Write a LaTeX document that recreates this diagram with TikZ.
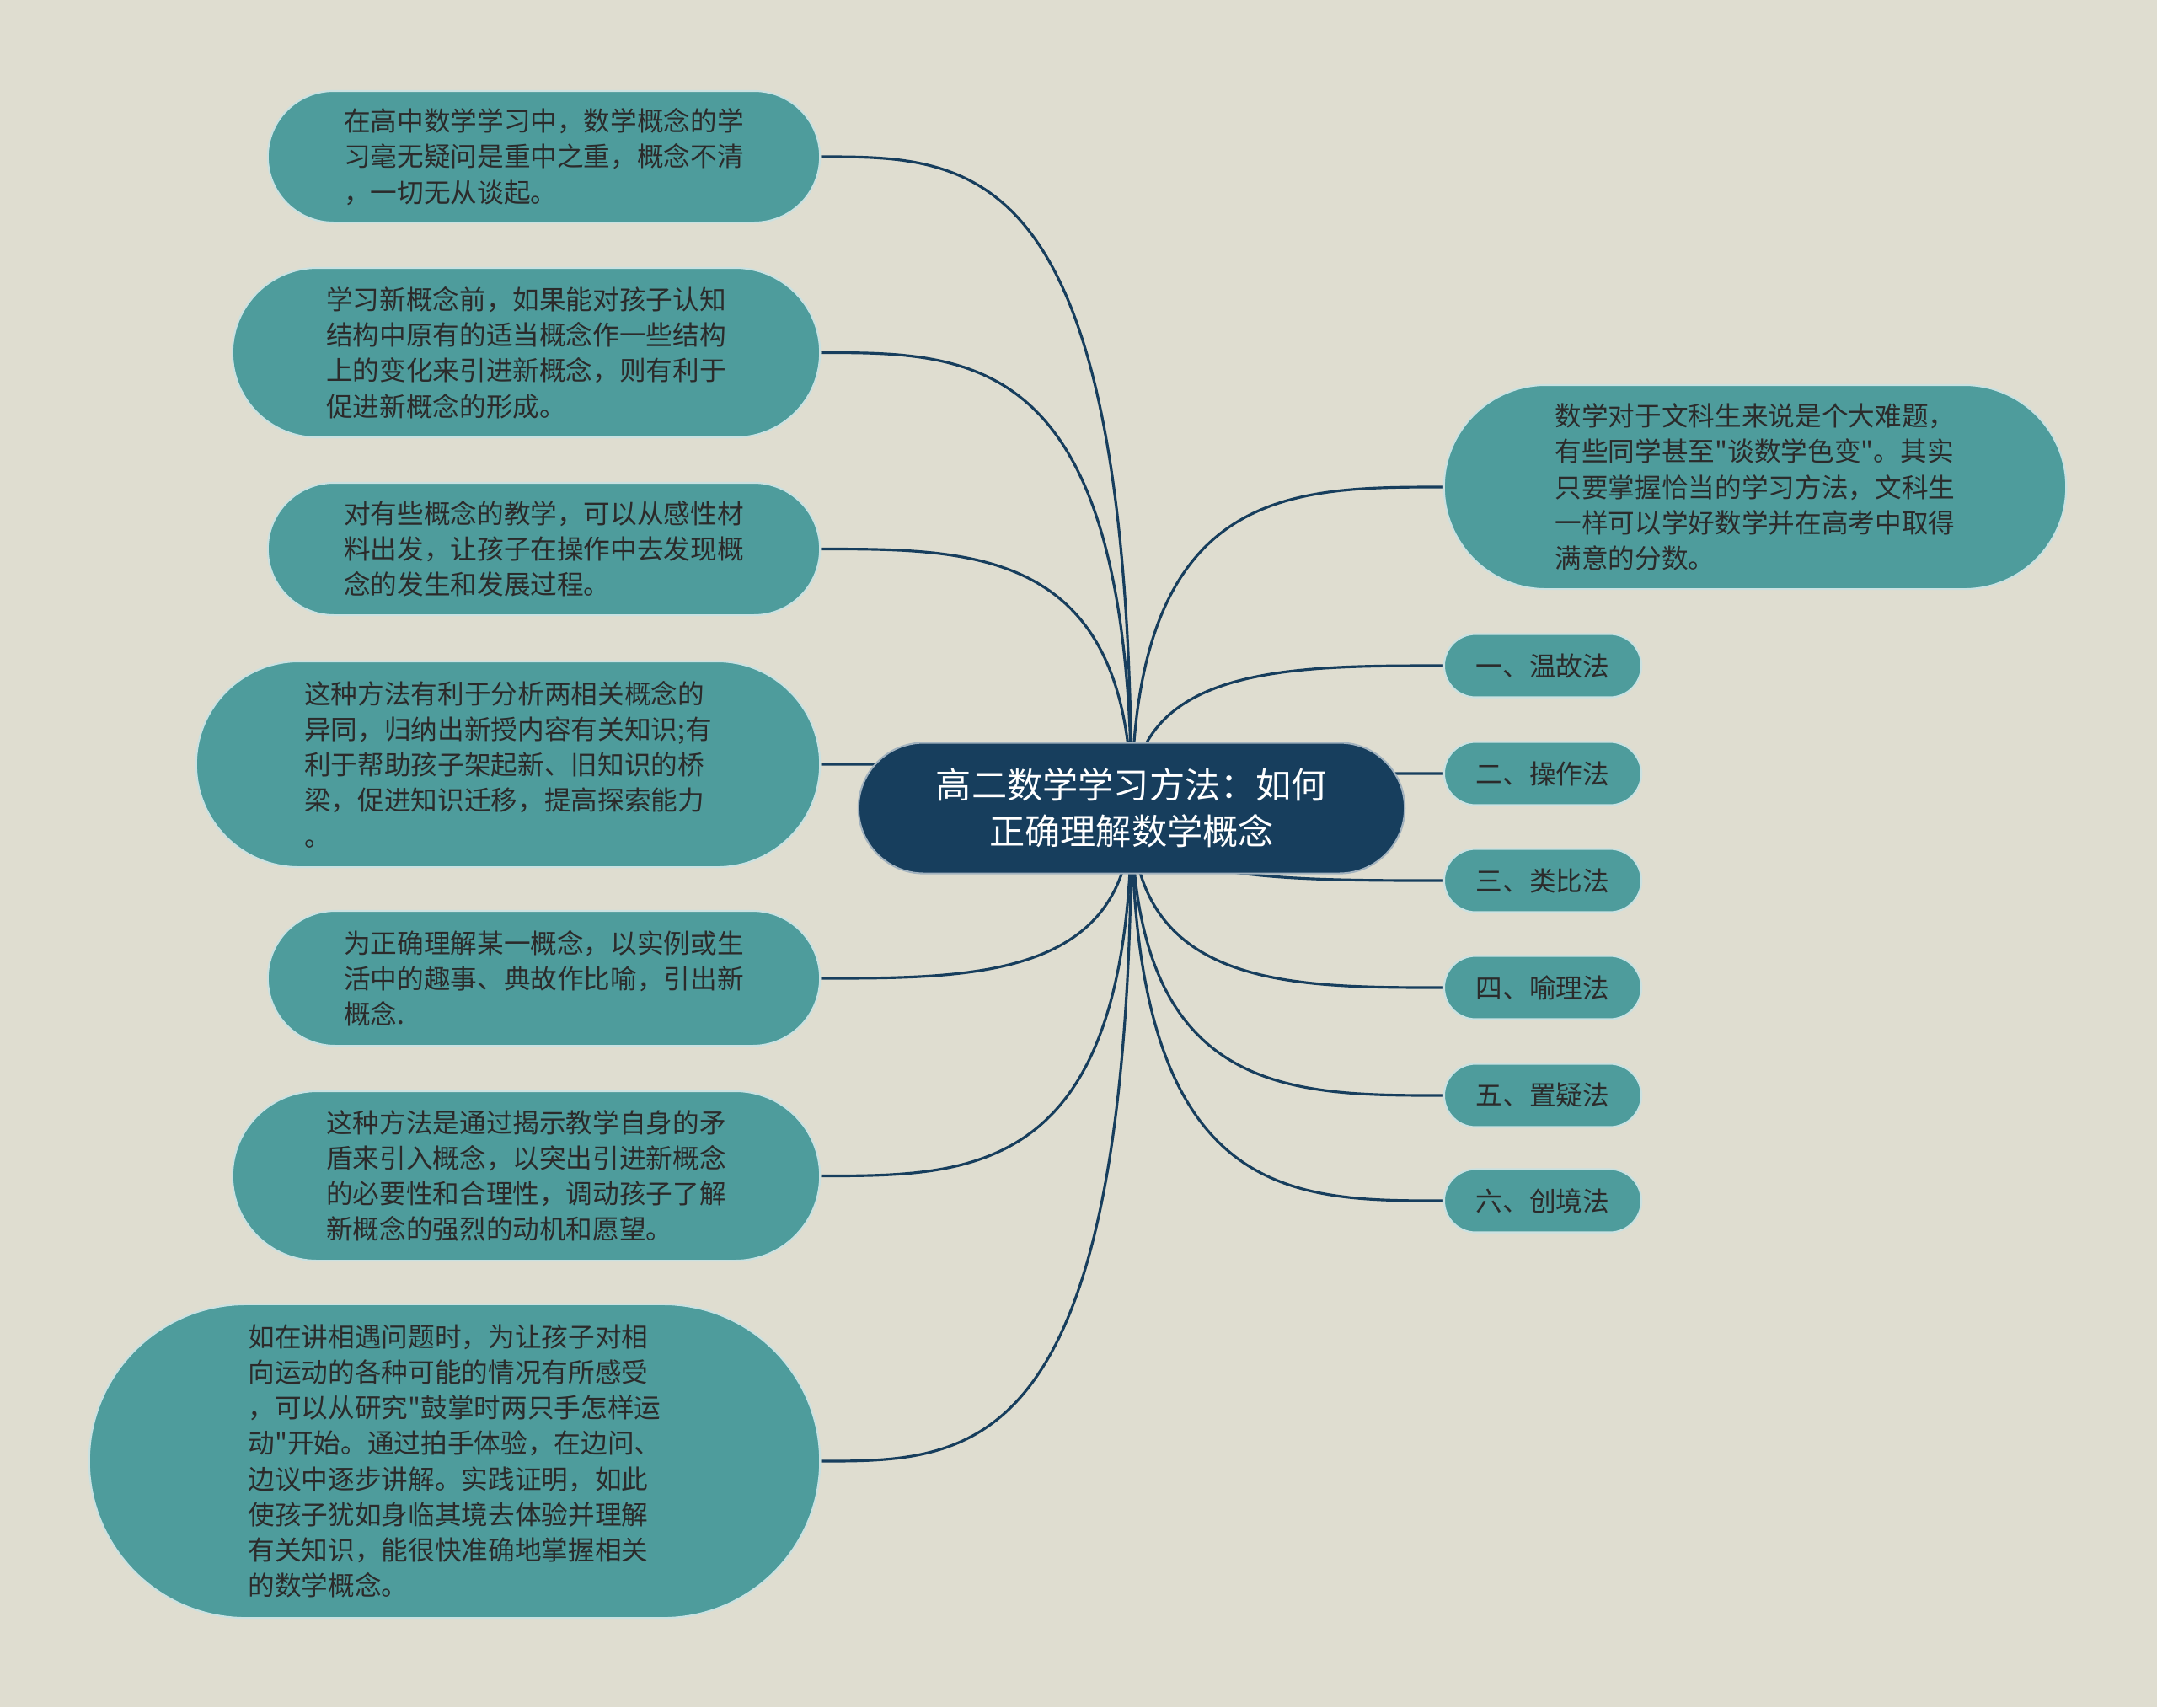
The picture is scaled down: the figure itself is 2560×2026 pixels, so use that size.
\documentclass[tikz,border=0pt]{standalone}
\usepackage{fontspec}
\newfontfamily\cjk{Noto Sans CJK SC}
\usetikzlibrary{shapes.misc,backgrounds,calc}

\definecolor{paper}{HTML}{DFDDD0}
\definecolor{tealbox}{HTML}{4E9C9C}
\definecolor{navybox}{HTML}{173E5D}
\definecolor{ink}{HTML}{2B2B2B}

\tikzset{
  notebox/.style={rounded rectangle, fill=tealbox, draw=white!70!tealbox, line width=0.6pt,
    inner sep=0pt, align=left, text=ink, font=\cjk\fontsize{9pt}{12pt}\selectfont},
  topicbox/.style={rounded rectangle, fill=navybox, draw=white!60!navybox, line width=0.6pt,
    inner sep=0pt, align=center, text=white, font=\cjk\fontsize{12pt}{15.8pt}\selectfont},
  link/.style={draw=navybox, line width=0.9pt},
  branch/.style={to path={.. controls (\tikztostart |- \tikztotarget)
    and ($(\tikztostart |- \tikztotarget)!0.5!(\tikztotarget)$) .. (\tikztotarget)}}
}

\begin{document}
\begin{tikzpicture}[x=0.01cm, y=-0.01cm]
    \useasboundingbox (0,0) rectangle (2560,2026);

    % main topic
    \node[topicbox, minimum width=6.48cm, minimum height=1.55cm] (topic) at (1343,959)
        {高二数学学习方法：如何\\正确理解数学概念};

    % left notes
    \node[notebox, minimum width=6.55cm, minimum height=1.56cm] (note1) at (645.5,186)
        {在高中数学学习中，数学概念的学\\习毫无疑问是重中之重，概念不清\\，一切无从谈起。};
    \node[notebox, minimum width=6.97cm, minimum height=2.01cm] (note2) at (624.5,418.5)
        {学习新概念前，如果能对孩子认知\\结构中原有的适当概念作一些结构\\上的变化来引进新概念，则有利于\\促进新概念的形成。};
    \node[notebox, minimum width=6.55cm, minimum height=1.57cm] (note3) at (645.5,651.5)
        {对有些概念的教学，可以从感性材\\料出发，让孩子在操作中去发现概\\念的发生和发展过程。};
    \node[notebox, minimum width=7.40cm, minimum height=2.44cm] (note4) at (603,907)
        {这种方法有利于分析两相关概念的\\异同，归纳出新授内容有关知识;有\\利于帮助孩子架起新、旧知识的桥\\梁，促进知识迁移，提高探索能力\\。};
    \node[notebox, minimum width=6.55cm, minimum height=1.60cm] (note5) at (645.5,1161)
        {为正确理解某一概念，以实例或生\\活中的趣事、典故作比喻，引出新\\概念.};
    \node[notebox, minimum width=6.97cm, minimum height=2.01cm] (note6) at (624.5,1395.5)
        {这种方法是通过揭示教学自身的矛\\盾来引入概念，以突出引进新概念\\的必要性和合理性，调动孩子了解\\新概念的强烈的动机和愿望。};
    \node[notebox, minimum width=8.67cm, minimum height=3.72cm] (note7) at (539.5,1734)
        {如在讲相遇问题时，为让孩子对相\\向运动的各种可能的情况有所感受\\，可以从研究"鼓掌时两只手怎样运\\动"开始。通过拍手体验，在边问、\\边议中逐步讲解。实践证明，如此\\使孩子犹如身临其境去体验并理解\\有关知识，能很快准确地掌握相关\\的数学概念。};

    % right side
    \node[notebox, minimum width=7.38cm, minimum height=2.42cm] (intro) at (2083,578)
        {数学对于文科生来说是个大难题，\\有些同学甚至"谈数学色变"。其实\\只要掌握恰当的学习方法，文科生\\一样可以学好数学并在高考中取得\\满意的分数。};
    \node[notebox, minimum width=2.34cm, minimum height=0.75cm] (way1) at (1831,790)  {一、温故法};
    \node[notebox, minimum width=2.34cm, minimum height=0.75cm] (way2) at (1831,918)  {二、操作法};
    \node[notebox, minimum width=2.34cm, minimum height=0.75cm] (way3) at (1831,1045) {三、类比法};
    \node[notebox, minimum width=2.34cm, minimum height=0.75cm] (way4) at (1831,1172) {四、喻理法};
    \node[notebox, minimum width=2.34cm, minimum height=0.75cm] (way5) at (1831,1300) {五、置疑法};
    \node[notebox, minimum width=2.34cm, minimum height=0.75cm] (way6) at (1831,1425) {六、创境法};

    \begin{scope}[on background layer]
    \fill[paper] (0,0) rectangle (2560,2026);

    % left branches
    \draw[link] (topic.center) to[branch] (note1.east);
    \draw[link] (topic.center) to[branch] (note2.east);
    \draw[link] (topic.center) to[branch] (note3.east);
    \draw[link] (topic.center) to[branch] (note4.east);
    \draw[link] (topic.center) to[branch] (note5.east);
    \draw[link] (topic.center) to[branch] (note6.east);
    \draw[link] (topic.center) to[branch] (note7.east);

    % right branches
    \draw[link] (topic.center) to[branch] (intro.west);
    \draw[link] (topic.center) to[branch] (way1.west);
    \draw[link] (topic.center) to[branch] (way2.west);
    \draw[link] (topic.center) to[branch] (way3.west);
    \draw[link] (topic.center) to[branch] (way4.west);
    \draw[link] (topic.center) to[branch] (way5.west);
    \draw[link] (topic.center) to[branch] (way6.west);
    \end{scope}

\end{tikzpicture}
\end{document}
